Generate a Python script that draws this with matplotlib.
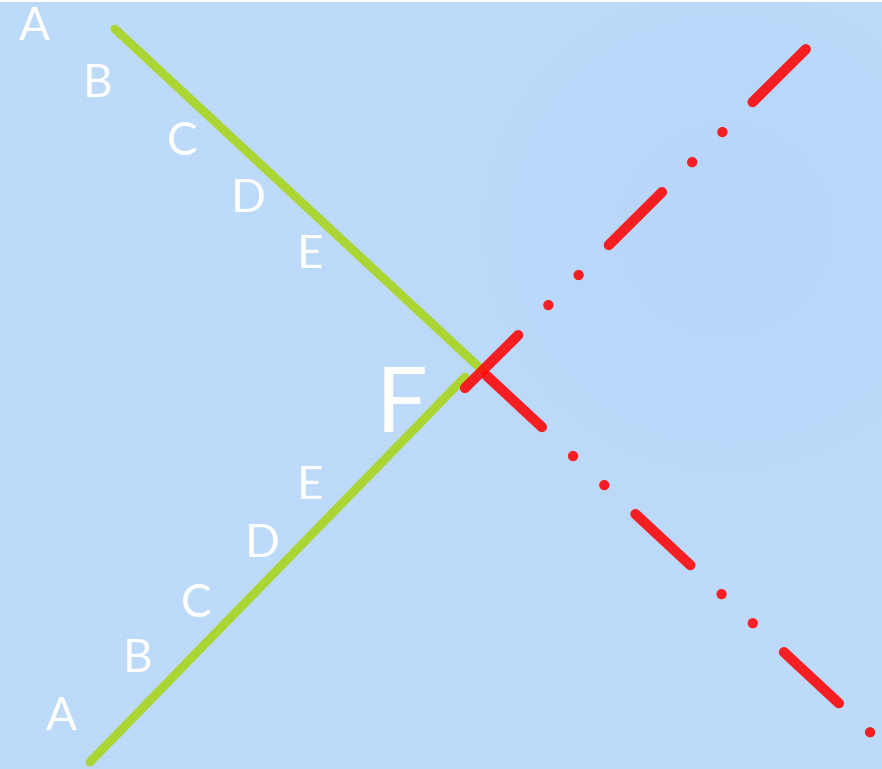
import numpy as np
import matplotlib.pyplot as plt

plt.rcParams['lines.scale_dashes'] = False

# line endpoints (pixel space of the picture, y downwards)
green_upper_x = [115, 481]
green_upper_y = [29, 369]
green_lower_x = [90, 465]
green_lower_y = [762, 377]
red_rising_x = [465, 806]
red_rising_y = [388, 49]
red_falling_x = [487, 873]
red_falling_y = [376, 735]

# letter labels
upper_labels = ['A', 'B', 'C', 'D', 'E']
upper_lx = [34, 98, 182, 248, 310]
upper_ly = [40, 97, 155, 212, 268]
lower_labels = ['E', 'D', 'C', 'B', 'A']
lower_lx = [310, 262, 196, 138, 61]
lower_ly = [499, 557, 617, 672, 730]
apex_label = 'F'
apex_xy = (402, 432)

W, H = 882, 769
fig = plt.figure(figsize=(W / 100, H / 100), dpi=100, facecolor='white')
ax = fig.add_axes([0, 0, 1, 1])
ax.set_xlim(0, W)
ax.set_ylim(H, 0)
ax.axis('off')

# soft radial background
yy, xx = np.mgrid[0:H, 0:W]
r = np.hypot(xx - 725, yy - 228)
t = np.clip(r / 320, 0, 1)
base = np.array([189, 218, 250]) / 255
center = np.array([183, 214, 248]) / 255
bg = center[None, None, :] * (1 - t[..., None]) + base[None, None, :] * t[..., None]
ax.imshow(bg, extent=(0, W, H, 2), aspect='auto', zorder=0, interpolation='bilinear')

green = '#ABD532'
green_lw = 6.3
ax.plot(green_upper_x, green_upper_y, color=green, lw=green_lw,
        solid_capstyle='round', zorder=2)
ax.plot(green_lower_x, green_lower_y, color=green, lw=green_lw,
        solid_capstyle='round', zorder=2)

# dash - dot - dot pattern (points)
pattern = (0, (54, 30.6, 0.1, 30.6, 0.1, 30.6))
for xs, ys in [(red_rising_x, red_rising_y), (red_falling_x, red_falling_y)]:
    ax.plot(xs, ys, color='#FF0000', alpha=0.86, lw=7.4, linestyle=pattern,
            dash_capstyle='round', solid_capstyle='round', zorder=3)

font = dict(family=['Lato', 'DejaVu Sans'], weight='normal', color='white')
for lab, x, y in zip(upper_labels, upper_lx, upper_ly):
    ax.text(x, y, lab, ha='center', va='baseline', fontsize=33, zorder=4, **font)
for lab, x, y in zip(lower_labels, lower_lx, lower_ly):
    ax.text(x, y, lab, ha='center', va='baseline', fontsize=33, zorder=4, **font)
ax.text(apex_xy[0], apex_xy[1], apex_label, ha='center', va='baseline',
        fontsize=66, zorder=4, **font)

fig.savefig('out.png', dpi=100, facecolor='white')
